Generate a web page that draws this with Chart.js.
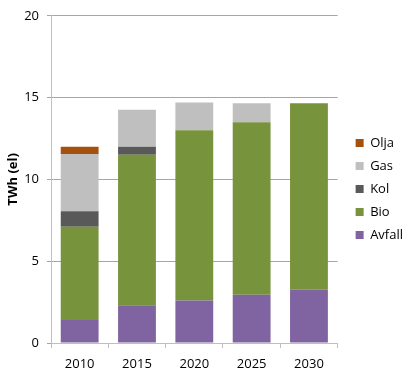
<!DOCTYPE html>
<html><head><meta charset="utf-8">
<script src="https://cdn.jsdelivr.net/npm/chart.js@4/dist/chart.umd.min.js"></script>
<style>html,body{margin:0;padding:0;background:#fff}#w{width:409px;height:386px}</style>
</head><body><div id="w"><canvas id="c" width="409" height="386"></canvas></div>
<script>
const categories = ["2010","2015","2020","2025","2030"];
const avfall = [1.4, 2.3, 2.6, 2.95, 3.25];
const bio    = [5.7, 9.2, 10.4, 10.55, 11.4];
const kol    = [0.95, 0.5, 0, 0, 0];
const gas    = [3.5, 2.25, 1.7, 1.15, 0];
const olja   = [0.45, 0, 0, 0, 0];
const yTicks = [0, 5, 10, 15, 20];

const FONT = "'Open Sans', sans-serif";
const mk = (label, data, color) => ({label, data, backgroundColor: color, borderWidth: 0, barPercentage: 0.66, categoryPercentage: 1});
const legendShift = {
  id: 'legendShift',
  afterLayout(chart) {
    const l = chart.legend;
    if (l) { l.left += 8; l.right += 8; l.top -= 8; l.bottom -= 8; }
  }
};
new Chart(document.getElementById('c'), {
  type: 'bar',
  data: {
    labels: categories,
    datasets: [
      mk('Avfall', avfall, '#8064A2'),
      mk('Bio', bio, '#77933C'),
      mk('Kol', kol, '#595959'),
      mk('Gas', gas, '#BFBFBF'),
      mk('Olja', olja, '#A5500F')
    ]
  },
  plugins: [legendShift],
  options: {
    responsive: false,
    animation: false,
    layout: {padding: {left: 0, right: 4, top: 8, bottom: 0}},
    plugins: {
      tooltip: {enabled: false},
      legend: {
        position: 'right',
        reverse: true,
        labels: {boxWidth: 8, boxHeight: 8, padding: 10, color: '#000', font: {family: FONT, size: 13}}
      }
    },
    scales: {
      x: {
        stacked: true,
        afterFit: s => { s.height = 43; },
        grid: {offset: true, drawOnChartArea: false, drawTicks: true, tickLength: 5, color: '#BFBFBF'},
        border: {color: '#BFBFBF'},
        ticks: {color: '#000', font: {family: FONT, size: 13}, padding: 8}
      },
      y: {
        stacked: true,
        min: 0, max: 20,
        afterBuildTicks: s => { s.ticks = yTicks.map(v => ({value: v})); },
        afterFit: s => { s.width = 51; },
        grid: {color: '#A6A6A6', borderDash: [3,3], tickLength: 4, tickBorderDash: [], tickColor: '#A6A6A6'},
        border: {color: '#BFBFBF'},
        ticks: {color: '#000', font: {family: FONT, size: 13}, padding: 8},
        title: {display: true, text: 'TWh (el)', color: '#000', font: {family: FONT, size: 13, weight: 'bold'}, padding: 5}
      }
    }
  }
});
</script></body></html>
